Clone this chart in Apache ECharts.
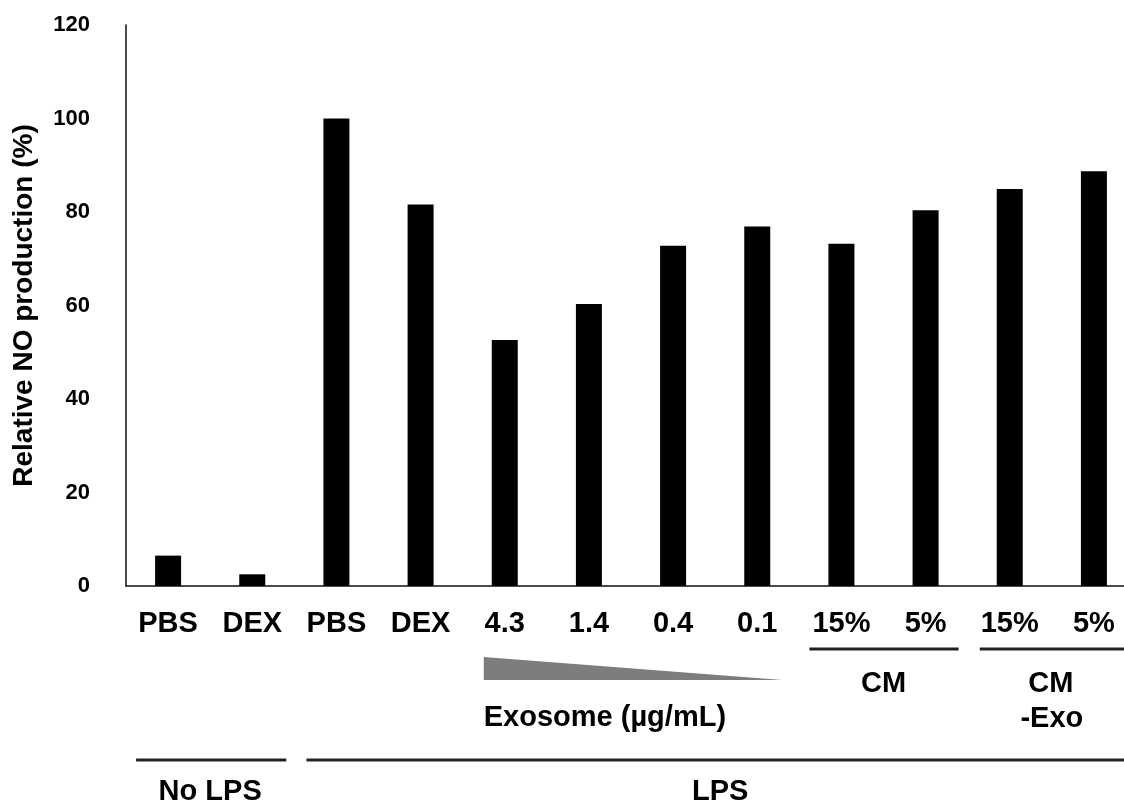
<!DOCTYPE html>
<html>
<head>
<meta charset="utf-8">
<script src="https://cdn.jsdelivr.net/npm/echarts@6/dist/echarts.min.js"></script>
<style>
html,body{margin:0;padding:0;background:#fff;}
#chart{width:1124px;height:801px;}
</style>
</head>
<body>
<div id="chart"></div>
<script>
// ---- data ----
var categories = ['PBS', 'DEX', 'PBS ', 'DEX ', '4.3', '1.4', '0.4', '0.1', '15%', '5%', '15% ', '5% '];
var values = [6.5, 2.5, 100, 81.6, 52.6, 60.3, 72.8, 76.9, 73.2, 80.4, 84.9, 88.7];
var yTicks = [0, 20, 40, 60, 80, 100, 120];
var yTitle = 'Relative NO production (%)';
var exosomeLabel = 'Exosome (µg/mL)';
var cmLabel = 'CM';
var cmExoLabel = ['CM', '-Exo'];
var noLpsLabel = 'No LPS';
var lpsLabel = 'LPS';

var FONT = '"Liberation Sans", Arial, sans-serif';
var chart = echarts.init(document.getElementById('chart'));

var option = {
  backgroundColor: '#fff',
  animation: false,
  grid: { left: 126, right: -12, top: 25, bottom: 215, containLabel: false, outerBoundsMode: 'none' },
  xAxis: {
    type: 'category',
    data: categories,
    axisLine: { lineStyle: { color: '#111', width: 1.5 } },
    axisTick: { show: false },
    axisLabel: {
      interval: 0, margin: 23, color: '#000', fontFamily: FONT,
      fontWeight: 'bold', fontSize: 29,
      formatter: function (v) { return v.trim(); }
    }
  },
  yAxis: {
    type: 'value', min: yTicks[0], max: yTicks[yTicks.length - 1], interval: 20,
    name: yTitle, nameLocation: 'middle', nameGap: 88, nameRotate: 90,
    nameTextStyle: { color: '#000', fontFamily: FONT, fontWeight: 'bold', fontSize: 28 },
    axisLine: { show: true, lineStyle: { color: '#111', width: 1.5 } },
    axisTick: { show: false },
    splitLine: { show: false },
    axisLabel: { margin: 36, color: '#000', fontFamily: FONT, fontWeight: 'bold', fontSize: 22 }
  },
  series: [{
    type: 'bar', data: values, barWidth: 26,
    itemStyle: { color: '#000' }
  }]
};
chart.setOption(option);

function cx(i) { return chart.convertToPixel({ xAxisIndex: 0 }, categories[i]); }
var base = chart.convertToPixel({ yAxisIndex: 0 }, 0);
var W = 1124;

function hline(x1, x2, y) {
  return { type: 'line', shape: { x1: x1, y1: y, x2: x2, y2: y }, style: { stroke: '#222', lineWidth: 3 } };
}
function txt(text, x, y, align) {
  return { type: 'text', x: x, y: y, style: { text: text, fill: '#000', font: 'bold 29px ' + FONT, textAlign: align || 'center', textVerticalAlign: 'top' } };
}

var g = [];
// exosome triangle
var tL = cx(4) - 21, tR = cx(7) + 25;
g.push({ type: 'polygon', shape: { points: [[tL, base + 71], [tL, base + 94], [tR, base + 94]] }, style: { fill: '#7d7d7d' } });
g.push(txt(exosomeLabel, tL, base + 117, 'left'));
// CM
g.push(hline(cx(8) - 32, cx(9) + 33, base + 63));
g.push(txt(cmLabel, (cx(8) + cx(9)) / 2, base + 83));
// CM-Exo
g.push(hline(cx(10) - 30, W, base + 63));
g.push(txt(cmExoLabel[0], (cx(10) + cx(11)) / 2 - 1, base + 83));
g.push(txt(cmExoLabel[1], (cx(10) + cx(11)) / 2, base + 118));
// No LPS / LPS
g.push(hline(cx(0) - 32, cx(1) + 34, base + 174));
g.push(txt(noLpsLabel, (cx(0) + cx(1)) / 2, base + 191));
g.push(hline(cx(2) - 30, W, base + 174));
g.push(txt(lpsLabel, (cx(2) + cx(11)) / 2 + 5, base + 191));

chart.setOption({ graphic: g });
</script>
</body>
</html>
